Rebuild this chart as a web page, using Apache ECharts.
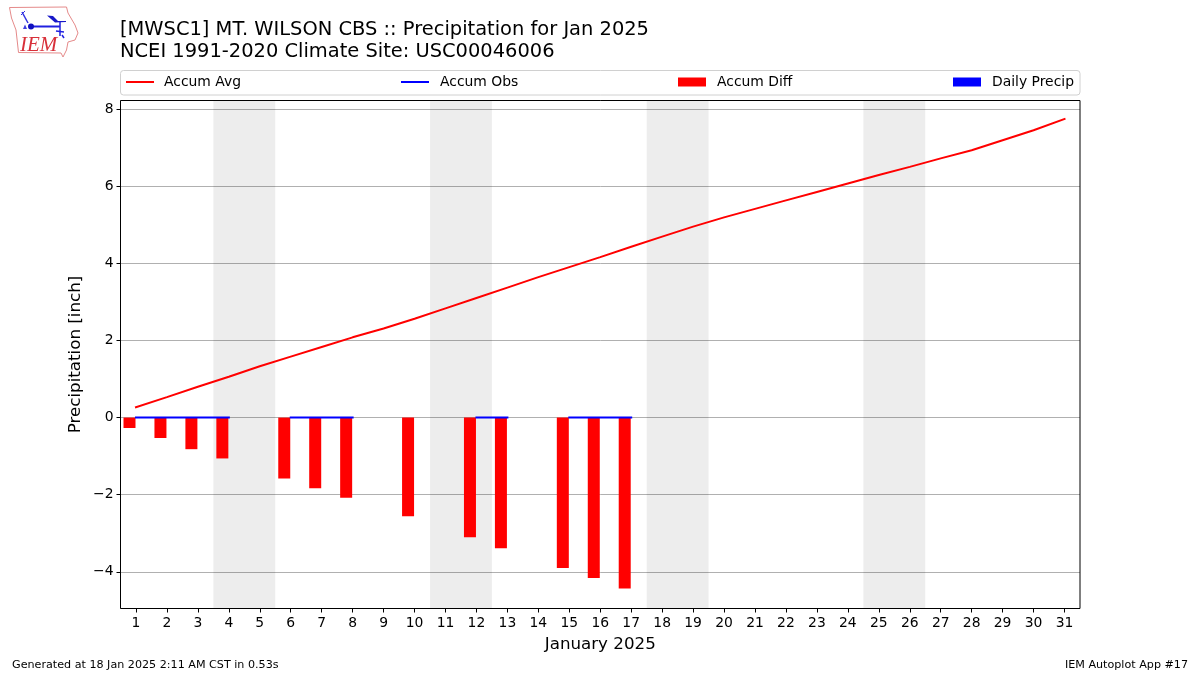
<!DOCTYPE html>
<html>
<head>
<meta charset="utf-8">
<style>html,body{margin:0;padding:0;background:#fff}#c{width:1200px;height:675px}</style>
<script src="https://cdn.jsdelivr.net/npm/echarts@6/dist/echarts.min.js"></script>
</head>
<body>
<div id="c"></div>
<script>
const days = ['1','2','3','4','5','6','7','8','9','10','11','12','13','14','15','16','17','18','19','20','21','22','23','24','25','26','27','28','29','30','31'];
const accumAvg = [0.27,0.53,0.80,1.06,1.33,1.58,1.83,2.08,2.31,2.56,2.83,3.10,3.37,3.64,3.90,4.16,4.43,4.69,4.95,5.19,5.41,5.63,5.85,6.07,6.29,6.50,6.72,6.93,7.19,7.45,7.74];
const accumObs = [0,0,0,0,null,0,0,0,null,0,null,0,0,null,0,0,0,null,null,null,null,null,null,null,null,null,null,null,null,null,null];
const accumDiff = [-0.27,-0.53,-0.82,-1.06,null,-1.58,-1.83,-2.08,null,-2.56,null,-3.10,-3.39,null,-3.90,-4.16,-4.43,null,null,null,null,null,null,null,null,null,null,null,null,null,null];
const dailyPrecip = [0,0,0,0,null,0,0,0,null,0,null,0,0,null,0,0,0,null,null,null,null,null,null,null,null,null,null,null,null,null,null];
const weekendSpans = [[3.5,5.5],[10.5,12.5],[17.5,19.5],[24.5,26.5]];
const titleText = '[MWSC1] MT. WILSON CBS :: Precipitation for Jan 2025\nNCEI 1991-2020 Climate Site: USC00046006';
const FONT = 'DejaVu Sans';

const legendAt = (name, left, isLine, gap) => ({
  data: [{name, icon: 'rect'}], left, top: 75, itemWidth: 28, itemHeight: isLine ? 2 : 9, itemGap: 10,
  padding: 0, selectedMode: false,
  textStyle: {fontFamily: FONT, fontSize: 13.9, color: '#000', padding: [0, 0, 0, gap]}
});

const poly = (points, stroke, lw) => ({type:'polyline', shape:{points}, style:{stroke, fill:null, lineWidth:lw}, silent:true});

const option = {
  animation: false,
  backgroundColor: '#fff',
  title: [
    {text: titleText, left: 120, top: 19, padding: 0,
     textStyle: {fontFamily: FONT, fontSize: 19.45, fontWeight: 'normal', color: '#000', lineHeight: 22}},
    {text: 'Generated at 18 Jan 2025 2:11 AM CST in 0.53s', left: 12, top: 660, padding: 0,
     textStyle: {fontFamily: FONT, fontSize: 11.15, fontWeight: 'normal', color: '#000'}},
    {text: 'IEM Autoplot App #17', right: 12, top: 660, padding: 0,
     textStyle: {fontFamily: FONT, fontSize: 11.15, fontWeight: 'normal', color: '#000'}}
  ],
  legend: [legendAt('Accum Avg', 126, true, 5), legendAt('Accum Obs', 401, true, 6), legendAt('Accum Diff', 678, false, 6), legendAt('Daily Precip', 953, false, 6)],
  grid: {left: 120.5, top: 100.5, width: 959.5, height: 508, show: false},
  xAxis: [
    {type: 'category', data: days, boundaryGap: true,
     name: 'January 2025', nameLocation: 'middle', nameGap: 28,
     nameTextStyle: {fontFamily: FONT, fontSize: 16.7, color: '#000'},
     axisLine: {show: false, onZero: false},
     axisTick: {show: true, alignWithLabel: true, length: 4, lineStyle: {color: '#000'}},
     axisLabel: {interval: 0, fontFamily: FONT, fontSize: 13.9, color: '#000', margin: 8},
     splitLine: {show: false}},
    {type: 'value', min: 0.5, max: 31.5, show: false, splitLine: {show: false}}
  ],
  yAxis: {
    type: 'value', min: -4.95, max: 8.22, splitNumber: 6,
    name: 'Precipitation [inch]', nameLocation: 'middle', nameGap: 36, nameMoveOverlap: false,
    nameTextStyle: {fontFamily: FONT, fontSize: 16.7, color: '#000'},
    axisLine: {show: false, onZero: false},
    axisTick: {show: true, length: 4, lineStyle: {color: '#000'}},
    axisLabel: {showMinLabel: false, showMaxLabel: false, fontFamily: FONT, fontSize: 13.9, color: '#000', margin: 7,
                padding: [0, 0, 3, 0], formatter: v => String(v).replace('-', '\u2212')},
    splitLine: {show: true, lineStyle: {color: '#b0b0b0', width: 1}}
  },
  series: [
    {name: 'shade', type: 'line', xAxisIndex: 1, data: [], silent: true, z: 1,
     markArea: {silent: true, itemStyle: {color: 'rgba(0,0,0,0.07)', borderWidth: 0},
                data: weekendSpans.map(s => [{xAxis: s[0]}, {xAxis: s[1]}])}},
    {name: 'Accum Diff', type: 'bar', data: accumDiff, barWidth: 12, barGap: '8%', itemStyle: {color: '#ff0000'}, z: 3},
    {name: 'Daily Precip', type: 'bar', data: dailyPrecip, barWidth: 12, barGap: '8%', itemStyle: {color: '#0000ff'}, z: 3},
    {name: 'Accum Avg', type: 'line', data: accumAvg, showSymbol: false, symbol: 'none', connectNulls: false,
     lineStyle: {color: '#ff0000', width: 2, cap: 'square'}, itemStyle: {color: '#ff0000'}, z: 4},
    {name: 'Accum Obs', type: 'line', data: accumObs, showSymbol: false, symbol: 'none', connectNulls: false,
     lineStyle: {color: '#0000ff', width: 2, cap: 'square'}, itemStyle: {color: '#0000ff'}, z: 4}
  ],
  graphic: [
    {type: 'rect', x: 120.5, y: 70.5, z: -1, silent: true,
     shape: {width: 959.5, height: 24.5, r: 3},
     style: {fill: '#fff', stroke: '#d0d0d0', lineWidth: 1}},
    {type: 'rect', x: 120.5, y: 100.5, z: 100, silent: true,
     shape: {width: 959.5, height: 508},
     style: {fill: 'none', stroke: '#000', lineWidth: 1}},
    {type: 'group', x: 0, y: 0, silent: true, children: [
      {type: 'polygon', shape: {points: [[9.5,7.5],[66.5,7],[68,13],[75,25],[78,33],[75,40],[68,42],[66.5,50],[63,57],[61,53],[18.5,52.5],[16,30],[11.5,18]]},
       style: {fill: '#fff', stroke: '#e58a8a', lineWidth: 1}},
      poly([[31,26.5],[60,26.5]], '#2020e0', 2),
      {type: 'circle', shape: {cx: 31, cy: 26.5, r: 3}, style: {fill: '#1010c0'}},
      poly([[22,12],[28,23]], '#3030e0', 1.5),
      poly([[21,15],[25,11]], '#3030e0', 1),
      {type: 'polygon', shape: {points: [[47,15.5],[53,16],[58,21],[66,21],[66,22],[55,22.5]]}, style: {fill: '#1818c8'}},
      poly([[60,22],[60,36]], '#2020e0', 1.5),
      poly([[56,31],[64,32]], '#2020e0', 1.5),
      poly([[62,35],[64,38]], '#2020e0', 1.5),
      {type: 'polygon', shape: {points: [[25,24.5],[27,29],[23,29]]}, style: {fill: '#4040e0'}},
      {type: 'text', x: 20, y: 35, style: {text: 'IEM', fill: '#d8303a', font: 'italic 21px "Liberation Serif"'}}
    ]}
  ]
};
echarts.init(document.getElementById('c'), null, {renderer: 'canvas'}).setOption(option);
</script>
</body>
</html>
